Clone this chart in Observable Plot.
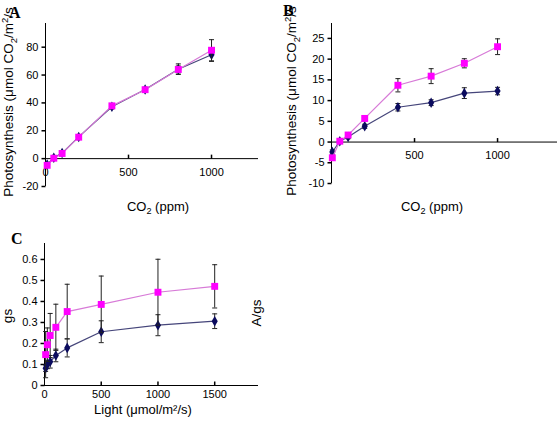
<!DOCTYPE html>
<html><head><meta charset="utf-8">
<script src="https://cdn.jsdelivr.net/npm/d3@7"></script>
<script src="https://cdn.jsdelivr.net/npm/@observablehq/plot@0.6"></script>
<style>
body{margin:0;background:#fff;}
#wrap{position:relative;width:559px;height:422px;overflow:hidden;font-family:"Liberation Sans",Arial,sans-serif;background:#fff;}
#wrap svg{position:absolute;left:0;top:0;}
.lbl{position:absolute;white-space:nowrap;color:#000;line-height:1;}
.panel{font-family:"Liberation Serif","Times New Roman",serif;font-weight:bold;font-size:16px;}
.ytitle{font-size:13.5px;transform:translate(-50%,-50%) rotate(-90deg);}
.xtitle{font-size:13px;transform:translate(-50%,-50%);}
sub,sup{font-size:0.7em;line-height:0;}
</style></head>
<body><div id="wrap"></div>
<script>
// ---- Panel A data ----
const aCO2 = [10, 50, 100, 200, 400, 600, 800, 1000];
const aControl = [-4.2, 0.6, 4.0, 15.6, 37.2, 49.6, 64.2, 74.6];
const aControlErr = [0.6, 0.6, 0.6, 0.8, 1.5, 1.0, 3.8, 4.8];
const aTrans = [-4.8, 0.3, 3.7, 15.4, 37.9, 49.5, 64.0, 77.8];
const aTransErr = [0.7, 0.6, 0.7, 0.9, 1.6, 1.1, 2.5, 7.6];
const aXTicks = [0, 500, 1000];
const aYTicks = [-20, 0, 20, 40, 60, 80];
// ---- Panel B data ----
const bCO2 = [5, 50, 100, 200, 400, 600, 800, 1000];
const bControl = [-2.4, 0.2, 1.2, 3.8, 8.4, 9.5, 11.8, 12.3];
const bControlErr = [0.5, 0.3, 0.4, 0.5, 0.9, 0.7, 1.3, 0.9];
const bTrans = [-3.8, 0.2, 1.7, 5.7, 13.7, 15.9, 19.0, 23.0];
const bTransErr = [0.6, 0.4, 0.4, 0.6, 1.6, 1.8, 1.1, 1.9];
const bXTicks = [500, 1000];
const bYTicks = [-10, -5, 0, 5, 10, 15, 20, 25];
// ---- Panel C data ----
const cLight = [10, 25, 50, 100, 200, 500, 1000, 1500];
const cControl = [0.082, 0.100, 0.113, 0.143, 0.179, 0.256, 0.287, 0.306];
const cControlErr = [0.015, 0.02, 0.03, 0.03, 0.043, 0.052, 0.05, 0.035];
const cTrans = [0.147, 0.194, 0.238, 0.277, 0.352, 0.386, 0.444, 0.472];
const cTransErr = [0.11, 0.08, 0.105, 0.11, 0.13, 0.135, 0.157, 0.103];
const cXTicks = [0, 500, 1000, 1500];
const cYTicks = [0, 0.1, 0.2, 0.3, 0.4, 0.5, 0.6];

const MAG = "#ff00ff", MAGLINE = "#d77ad7", NAVY = "#0b0b5e", NAVYLINE = "#45457a", ERR = "#222";
const capSymbol = {draw(ctx){ctx.moveTo(-2.5,0);ctx.lineTo(2.5,0);}};
const upTick = {draw(ctx){ctx.moveTo(0,0);ctx.lineTo(0,-4);}};
const leftTick = {draw(ctx){ctx.moveTo(0,0);ctx.lineTo(-4,0);}};

function rows(xs, ys, es){ return xs.map((x,i)=>({x, y: ys[i], lo: ys[i]-es[i], hi: ys[i]+es[i]})); }

function panel(o){
  const ctl = rows(o.xs, o.ctl, o.ctlErr);
  const tr = rows(o.xs, o.tr, o.trErr);
  const x0 = o.xDomain[0];
  const series = (d, lineColor, dotColor, symbol, r) => [
    Plot.line(d, {x:"x", y:"y", stroke: lineColor, strokeWidth: 1.2}),
    Plot.ruleX(d, {x:"x", y1:"lo", y2:"hi", stroke: ERR, strokeWidth: 1}),
    Plot.dot(d, {x:"x", y:"hi", symbol: capSymbol, stroke: ERR, fill:"none", strokeWidth:1}),
    Plot.dot(d, {x:"x", y:"lo", symbol: capSymbol, stroke: ERR, fill:"none", strokeWidth:1}),
    Plot.dot(d, {x:"x", y:"y", symbol, r, fill: dotColor, stroke: "none"})
  ];
  return Plot.plot({
    width: 559, height: 422,
    marginLeft: o.ml, marginRight: o.mr, marginTop: o.mt, marginBottom: o.mb,
    style: {background: "transparent", fontSize: "11px", fontFamily: "'Liberation Sans', Arial, sans-serif", color: "#000", overflow: "visible"},
    x: {domain: o.xDomain, axis: null},
    y: {domain: o.yDomain, axis: null},
    marks: [
      Plot.ruleX([x0], {stroke: "#000", strokeWidth: 1}),
      Plot.ruleY([o.xAxisAt], {stroke: "#000", strokeWidth: 1}),
      Plot.dot(o.yTicks, {x: () => x0, y: d => d, symbol: leftTick, stroke: "#000", fill: "none"}),
      Plot.text(o.yTicks, {x: () => x0, y: d => d, dx: -7, textAnchor: "end", text: d => String(d), fill: "#000", fontSize: 11}),
      Plot.dot(o.xTicks.filter(t => t > 0), {x: d => d, y: () => o.xAxisAt, symbol: upTick, stroke: "#000", fill: "none"}),
      Plot.text(o.xTicks, {x: d => d, y: () => o.xAxisAt, dy: o.xLabelDy, text: d => String(d), fill: "#000", fontSize: 11}),
      ...series(ctl, NAVYLINE, NAVY, "diamond", 3.2),
      ...series(tr, MAGLINE, MAG, "square", 3.9)
    ]
  });
}

const wrap = document.getElementById("wrap");
wrap.append(panel({xs: aCO2, ctl: aControl, ctlErr: aControlErr, tr: aTrans, trErr: aTransErr,
  ml: 45, mr: 301, mt: 23, mb: 236, xDomain: [0, 1283], yDomain: [-20, 97], yTicks: aYTicks, xTicks: aXTicks, xAxisAt: 0, xLabelDy: 14}));
wrap.append(panel({xs: bCO2, ctl: bControl, ctlErr: bControlErr, tr: bTrans, trErr: bTransErr,
  ml: 331, mr: 2, mt: 23, mb: 239, xDomain: [0, 1361], yDomain: [-10, 28.6], yTicks: bYTicks, xTicks: bXTicks, xAxisAt: 0, xLabelDy: 13}));
wrap.append(panel({xs: cLight, ctl: cControl, ctlErr: cControlErr, tr: cTrans, trErr: cTransErr,
  ml: 44, mr: 301, mt: 243, mb: 37, xDomain: [0, 1886], yDomain: [0, 0.676], yTicks: cYTicks, xTicks: cXTicks, xAxisAt: 0, xLabelDy: 9}));

const labels = [
  {cls: "panel", html: "A", left: 9, top: 5},
  {cls: "panel", html: "B", left: 283, top: 3},
  {cls: "panel", html: "C", left: 11, top: 231},
  {cls: "ytitle", html: "Photosynthesis (μmol CO<sub>2</sub>/m<sup>2</sup>/s", left: 9, top: 102},
  {cls: "ytitle", html: "Photosynthesis (μmol CO<sub>2</sub>/m<sup>2</sup>/s", left: 292, top: 101},
  {cls: "xtitle", html: "CO<sub>2</sub> (ppm)", left: 158, top: 206},
  {cls: "xtitle", html: "CO<sub>2</sub> (ppm)", left: 432, top: 206},
  {cls: "ytitle", html: "gs", left: 8, top: 316},
  {cls: "ytitle", html: "A/gs", left: 257, top: 313},
  {cls: "xtitle", html: "Light (μmol/m²/s)", left: 143, top: 409}
];
for (const l of labels) {
  const d = document.createElement("div");
  d.className = "lbl " + l.cls;
  d.innerHTML = l.html;
  d.style.left = l.left + "px";
  d.style.top = l.top + "px";
  wrap.append(d);
}
</script>
</body></html>
